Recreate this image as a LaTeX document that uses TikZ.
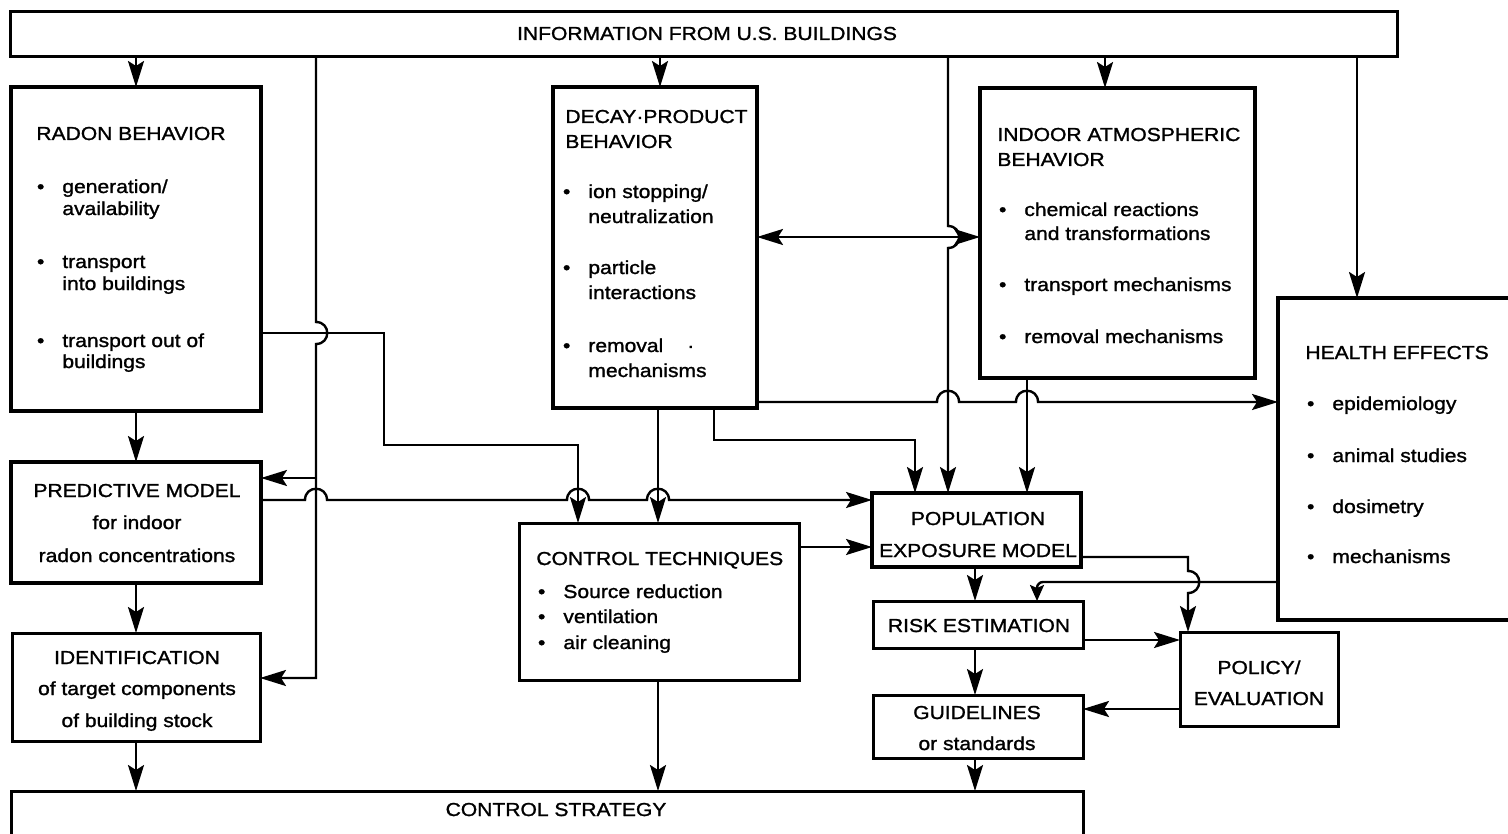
\documentclass[tikz,border=0pt]{standalone}
\usepackage{fontspec}
\setmainfont{Liberation Sans}[FakeStretch=1.12,FakeBold=1.3]
\usetikzlibrary{arrows.meta}
\newcommand\fbx[6]{\node[#6, minimum width={(#4-#2)*0.5pt}, minimum height={(#5-#3)*0.5pt}] (#1) at ({(#2+#4)/2},{(#3+#5)/2}) {};}
\newcommand\tl[4]{\node[txt] (#1) at (#2,#3) {#4};}
\newcommand\tc[4]{\node[ctxt] (#1) at (#2,#3) {#4};}
\newcommand\bu{\llap{•\hspace{9pt}}}
\begin{document}
\begin{tikzpicture}[x=0.5pt,y=-0.5pt,
  box/.style={draw, rectangle, inner sep=0pt, outer sep=0pt},
  thickbox/.style={box, line width=2.2pt},
  thinbox/.style={box, line width=1.5pt},
  txt/.style={inner sep=0pt, anchor=base west, font=\fontsize{9.4}{11}\selectfont},
  ctxt/.style={inner sep=0pt, anchor=base, font=\fontsize{9.4}{11}\selectfont},
  arr/.style={line width=1.2pt, -{Stealth[length=13pt,width=8pt,inset=2.5pt]}},
  sarr/.style={line width=1.2pt, -{Stealth[length=8pt,width=7pt,inset=1.5pt]}},
  darr/.style={line width=1.2pt, {Stealth[length=13pt,width=8pt,inset=2.5pt]}-{Stealth[length=13pt,width=8pt,inset=2.5pt]}}]
\useasboundingbox (0,0) rectangle (1508,834);
\clip (0,0) rectangle (1508,834);
\fill[white] (0,0) rectangle (1508,834);
% boxes
\fbx{bar}{10}{12}{1397}{57}{thinbox}
\fbx{radon}{11}{87}{261}{411}{thickbox}
\fbx{decay}{553}{87}{757}{408}{thickbox}
\fbx{indoor}{980}{88}{1255}{378}{thickbox}
\fbx{health}{1278}{298}{1540}{620}{thickbox}
\fbx{pred}{11}{462}{261}{583}{thickbox}
\fbx{ident}{12}{633}{260}{741}{thinbox}
\fbx{ct}{519}{523}{799}{680}{thinbox}
\fbx{pop}{872}{493}{1081}{567}{thickbox}
\fbx{risk}{873}{601}{1083}{648}{thinbox}
\fbx{guide}{873}{695}{1083}{758}{thinbox}
\fbx{policy}{1180}{632}{1338}{726}{thinbox}
\fbx{cs}{11}{791}{1083}{870}{thinbox}
% texts
\tc{tbar}{707}{40}{INFORMATION FROM U.S. BUILDINGS}
\tl{r0}{36}{140}{RADON BEHAVIOR}
\tl{r1}{62}{193}{\bu generation/}
\tl{r2}{62}{215}{availability}
\tl{r3}{62}{268}{\bu transport}
\tl{r4}{62}{290}{into buildings}
\tl{r5}{62}{347}{\bu transport out of}
\tl{r6}{62}{368}{buildings}
\tl{d0}{565}{123}{DECAY·PRODUCT}
\tl{d1}{565}{148}{BEHAVIOR}
\tl{d2}{588}{198}{\bu ion stopping/}
\tl{d3}{588}{223}{neutralization}
\tl{d4}{588}{274}{\bu particle}
\tl{d5}{588}{299}{interactions}
\tl{d6}{588}{352}{\bu removal\hspace{12pt}·}
\tl{d7}{588}{377}{mechanisms}
\tl{i0}{997}{141}{INDOOR ATMOSPHERIC}
\tl{i1}{997}{166}{BEHAVIOR}
\tl{i2}{1024}{216}{\bu chemical reactions}
\tl{i3}{1024}{240}{and transformations}
\tl{i4}{1024}{291}{\bu transport mechanisms}
\tl{i5}{1024}{343}{\bu removal mechanisms}
\tl{h0}{1305}{359}{HEALTH EFFECTS}
\tl{h1}{1332}{410}{\bu epidemiology}
\tl{h2}{1332}{462}{\bu animal studies}
\tl{h3}{1332}{513}{\bu dosimetry}
\tl{h4}{1332}{563}{\bu mechanisms}
\tc{p0}{137}{497}{PREDICTIVE MODEL}
\tc{p1}{137}{529}{for indoor}
\tc{p2}{137}{562}{radon concentrations}
\tc{id0}{137}{664}{IDENTIFICATION}
\tc{id1}{137}{695}{of target components}
\tc{id2}{137}{727}{of building stock}
\tl{c0}{536}{565}{CONTROL TECHNIQUES}
\tl{c1}{563}{598}{\bu Source reduction}
\tl{c2}{563}{623}{\bu ventilation}
\tl{c3}{563}{649}{\bu air cleaning}
\tc{po0}{978}{525}{POPULATION}
\tc{po1}{978}{557}{EXPOSURE MODEL}
\tc{rk0}{979}{632}{RISK ESTIMATION}
\tc{pl0}{1259}{674}{POLICY/}
\tc{pl1}{1259}{705}{EVALUATION}
\tc{g0}{977}{719}{GUIDELINES}
\tc{g1}{977}{750}{or standards}
\tc{cs0}{556}{816}{CONTROL STRATEGY}
% connectors from the top bar
\draw[arr] (bar.south -| radon.north) -- (radon.north);
\draw[arr] (bar.south -| 660,0) -- (decay.north -| 660,0);
\draw[arr] (bar.south -| 1105,0) -- (indoor.north -| 1105,0);
\draw[arr] (bar.south -| 1357,0) -- (health.north -| 1357,0);
\draw[arr] (bar.south -| 316,0) -- (316,322) .. controls (331,322) and (331,344) .. (316,344) -- (316,678) -- (ident.east |- 0,678);
\coordinate (j1) at (316,478);
\draw[arr] (j1) -- (pred.east |- j1);
\draw[arr] (bar.south -| 948,0) -- (948,226) .. controls (963,226) and (963,248) .. (948,248) -- (pop.north -| 948,0);
% left column
\draw[arr] (radon.south) -- (pred.north);
\draw[arr] (pred.south) -- (ident.north);
\draw[arr] (ident.south) -- (cs.north -| ident.south);
% radon to control techniques
\draw[arr] (radon.east |- 0,333) -- (384,333) -- (384,445) -- (578,445) -- (ct.north -| 578,0);
% predictive model to population
\draw[arr] (pred.east |- 0,500) -- (305,500) .. controls (305,485) and (327,485) .. (327,500) -- (567,500) .. controls (567,485) and (589,485) .. (589,500) -- (647,500) .. controls (647,485) and (669,485) .. (669,500) -- (pop.west |- 0,500);
% decay product
\draw[arr] (decay.south -| 658,0) -- (ct.north -| 658,0);
\draw[arr] (decay.south -| 714,0) -- (714,440) -- (915,440) -- (pop.north -| 915,0);
\draw[arr] (decay.east |- 0,402) -- (937,402) .. controls (937,387) and (959,387) .. (959,402) -- (1016,402) .. controls (1016,387) and (1038,387) .. (1038,402) -- (health.west |- 0,402);
\draw[darr] (decay.east |- 0,237) -- (indoor.west |- 0,237);
% indoor to population
\draw[arr] (indoor.south -| 1027,0) -- (pop.north -| 1027,0);
% control techniques
\draw[arr] (ct.east |- 0,547) -- (pop.west |- 0,547);
\draw[arr] (ct.south -| 658,0) -- (cs.north -| 658,0);
% right lower part
\draw[arr] (pop.south -| 975,0) -- (risk.north -| 975,0);
\draw[sarr, rounded corners=3pt] (health.west |- 0,582) -- (1037,582) -- (risk.north -| 1037,0);
\draw[arr] (pop.east |- 0,557) -- (1188,557) -- (1188,571) .. controls (1203,571) and (1203,593) .. (1188,593) -- (policy.north -| 1188,0);
\draw[arr] (risk.east |- 0,640) -- (policy.west |- 0,640);
\draw[arr] (risk.south -| 975,0) -- (guide.north -| 975,0);
\draw[arr] (policy.west |- 0,709) -- (guide.east |- 0,709);
\draw[arr] (guide.south -| 975,0) -- (cs.north -| 975,0);
\end{tikzpicture}
\end{document}
